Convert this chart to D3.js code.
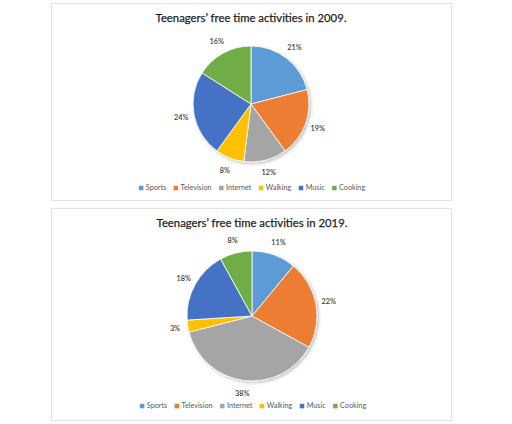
<!DOCTYPE html>
<html>
<head>
<meta charset="utf-8">
<script src="https://cdn.jsdelivr.net/npm/d3@7"></script>
<style>
  html, body { margin: 0; padding: 0; background: #ffffff; }
  svg { display: block; }
</style>
</head>
<body>
<svg id="chart" width="512" height="424"></svg>
<script>
// ---- data ----
const categories = ["Sports", "Television", "Internet", "Walking", "Music", "Cooking"];
const values2009 = [21, 19, 12, 8, 24, 16];
const values2019 = [11, 22, 38, 3, 18, 8];
const titles = ["Teenagers\u2019 free time activities in 2009.", "Teenagers\u2019 free time activities in 2019."];
const colors = ["#5B9BD5", "#ED7D31", "#A5A5A5", "#FFC000", "#4472C4", "#70AD47"];

const svg = d3.select("#chart");
const defs = svg.append("defs");
const f = defs.append("filter").attr("id", "shadow").attr("x", "-20%").attr("y", "-20%").attr("width", "140%").attr("height", "140%");
f.append("feDropShadow").attr("dx", 1.5).attr("dy", 1.5).attr("stdDeviation", 1.5).attr("flood-color", "#000").attr("flood-opacity", 0.25);

const color = d3.scaleOrdinal().domain(categories).range(colors);

const panels = [
  { values: values2009, title: titles[0], box: [51, 3, 400, 197], cx: 251, cy: 104, r: 58, titleY: 22, legendY: 188 },
  { values: values2019, title: titles[1], box: [51, 208, 400, 212], cx: 252, cy: 316, r: 65, titleY: 227, legendY: 406 }
];

const pie = d3.pie().sort(null).value(d => d.value);

panels.forEach(p => {
  const g = svg.append("g");
  g.append("rect")
    .attr("x", p.box[0] + 0.5).attr("y", p.box[1] + 0.5)
    .attr("width", p.box[2]).attr("height", p.box[3])
    .attr("fill", "#fff").attr("stroke", "#e3e3e3").attr("stroke-width", 1);

  g.append("text")
    .attr("x", p.cx).attr("y", p.titleY)
    .attr("text-anchor", "middle")
    .attr("font-family", "Lato, 'Open Sans', sans-serif")
    .attr("font-size", 11.3)
    .attr("fill", "#1f1f1f")
    .attr("stroke", "#1f1f1f").attr("stroke-width", 0.25)
    .text(p.title);

  const data = categories.map((c, i) => ({ name: c, value: p.values[i] }));
  const arcs = pie(data);
  const arc = d3.arc().innerRadius(0).outerRadius(p.r);
  const labelArc = d3.arc().innerRadius(p.r + 13).outerRadius(p.r + 13);

  const pg = g.append("g").attr("transform", `translate(${p.cx},${p.cy})`);
  pg.append("g").attr("filter", "url(#shadow)")
    .selectAll("path").data(arcs).join("path")
    .attr("d", arc)
    .attr("fill", d => color(d.data.name))
    .attr("stroke", "#ffffff").attr("stroke-width", 0.8);

  pg.selectAll("text.lbl").data(arcs).join("text")
    .attr("class", "lbl")
    .attr("transform", d => `translate(${labelArc.centroid(d)})`)
    .attr("text-anchor", "middle")
    .attr("dy", "0.35em")
    .attr("font-family", "Lato, 'Open Sans', sans-serif")
    .attr("font-size", 7.3)
    .attr("font-weight", 600)
    .attr("fill", "#404040")
    .text(d => d.data.value + "%");

  // legend
  const lg = g.append("g");
  const items = lg.selectAll("g").data(categories).join("g");
  items.append("rect").attr("width", 4.5).attr("height", 4.5).attr("y", -4.2).attr("fill", d => color(d));
  items.append("text")
    .attr("x", 7).attr("y", 0)
    .attr("font-family", "Lato, 'Open Sans', sans-serif")
    .attr("font-size", 7.2)
    .attr("fill", "#595959")
    .text(d => d);
  let x = 0;
  const gap = 7.5;
  items.each(function () {
    const w = 7 + d3.select(this).select("text").node().getComputedTextLength();
    d3.select(this).attr("transform", `translate(${x},0)`);
    x += w + gap;
  });
  const total = x - gap;
  lg.attr("transform", `translate(${p.cx - total / 2 + 1},${p.legendY + 2})`);
});
</script>
</body>
</html>
